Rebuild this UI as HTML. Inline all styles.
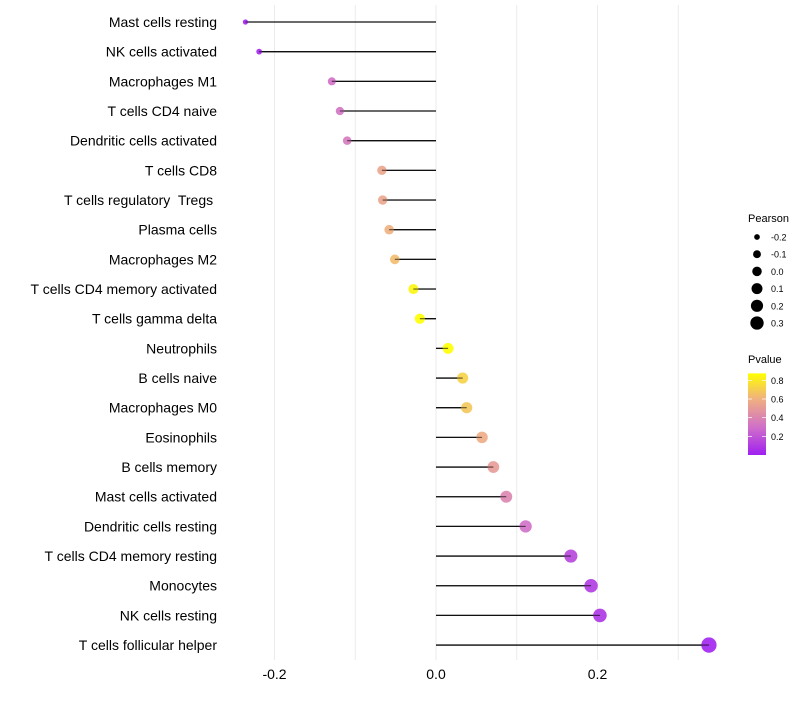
<!DOCTYPE html>
<html><head><meta charset="utf-8"><style>
body{margin:0;background:#fff;font-family:"Liberation Sans",sans-serif;}
text{white-space:pre;}
</style></head><body>
<svg id="c" width="800" height="700" xmlns="http://www.w3.org/2000/svg"></svg>
<script>
const categories=["Mast cells resting","NK cells activated","Macrophages M1","T cells CD4 naive","Dendritic cells activated","T cells CD8","T cells regulatory  Tregs ","Plasma cells","Macrophages M2","T cells CD4 memory activated","T cells gamma delta","Neutrophils","B cells naive","Macrophages M0","Eosinophils","B cells memory","Mast cells activated","Dendritic cells resting","T cells CD4 memory resting","Monocytes","NK cells resting","T cells follicular helper"];
const pearson=[-0.236,-0.219,-0.129,-0.119,-0.110,-0.067,-0.066,-0.058,-0.051,-0.028,-0.020,0.015,0.033,0.038,0.057,0.071,0.087,0.111,0.167,0.192,0.203,0.338];
const pvalues=[0.01,0.02,0.3,0.32,0.34,0.55,0.55,0.6,0.64,0.84,0.88,0.9,0.72,0.68,0.58,0.5,0.4,0.3,0.14,0.1,0.08,0.01];
const xTicks=[-0.2,0,0.2];
const xTickLabels=["-0.2","0.0","0.2"];
const gridVals=[-0.2,-0.1,0,0.1,0.2,0.3];
const sizeLegend=[-0.2,-0.1,0.0,0.1,0.2,0.3];
const sizeLegendLabels=["-0.2","-0.1","0.0","0.1","0.2","0.3"];
const pLegend=[0.8,0.6,0.4,0.2];

const svg=document.getElementById('c');
const NS="http://www.w3.org/2000/svg";
const x=v=>436+v*807.5;
const y=i=>22+i*29.67;
const r=v=>Math.sqrt(Math.max(2.5,28+90*v));
const stops=[[0,[160,32,240]],[0.3,[208,112,200]],[0.6,[240,176,128]],[0.875,[255,255,0]]];
function col(p){p=Math.max(0,Math.min(0.875,p));for(let k=1;k<stops.length;k++){if(p<=stops[k][0]){const a=stops[k-1],b=stops[k],t=(p-a[0])/(b[0]-a[0]);return 'rgb('+a[1].map((c,j)=>Math.round(c+(b[1][j]-c)*t)).join(',')+')';}}return 'rgb(255,255,0)';}
function el(t,at,txt){const e=document.createElementNS(NS,t);for(const k in at)e.setAttribute(k,at[k]);if(txt!==undefined)e.textContent=txt;svg.appendChild(e);return e;}

gridVals.forEach(v=>{const g=el('line',{x1:x(v),x2:x(v),y1:5,y2:660,stroke:'#ebebeb','stroke-width':1});

});
xTicks.forEach((v,i)=>{const t=el('text',{x:x(v),y:679,'font-size':14,'text-anchor':'middle',fill:'#000'},xTickLabels[i]);

});
categories.forEach((c,i)=>{
const t=el('text',{x:217,y:y(i)+5,'font-size':14,'text-anchor':'end',fill:'#000'},c);


const l=el('line',{x1:x(0),x2:x(pearson[i]),y1:y(i),y2:y(i),stroke:'#111','stroke-width':1.3});


const d=el('circle',{cx:x(pearson[i]),cy:y(i),r:r(pearson[i]),fill:col(pvalues[i]),'fill-opacity':0.9});


const l2=el('line',{x1:x(0),x2:x(pearson[i]),y1:y(i),y2:y(i),stroke:'#111','stroke-width':1.1,'stroke-opacity':0.6});


});
const pt=el('text',{x:748,y:222,'font-size':11},'Pearson');


sizeLegend.forEach((v,i)=>{const cy=237+i*17.2;
const c=el('circle',{cx:757,cy:cy,r:r(v)*0.9,fill:'#000'});


const t=el('text',{x:771,y:cy+3.5,'font-size':9},sizeLegendLabels[i]);

});
const vt=el('text',{x:748,y:363,'font-size':11},'Pvalue');


const defs=el('defs',{});
const lg=document.createElementNS(NS,'linearGradient');lg.setAttribute('id','pg');lg.setAttribute('x1',0);lg.setAttribute('y1',1);lg.setAttribute('x2',0);lg.setAttribute('y2',0);defs.appendChild(lg);
stops.forEach(s=>{const st=document.createElementNS(NS,'stop');st.setAttribute('offset',s[0]/0.875);st.setAttribute('stop-color','rgb('+s[1].join(',')+')');lg.appendChild(st);});
const py=p=>455-p*93.3;
const bar=el('rect',{x:748,y:py(0.875),width:18,height:py(0)-py(0.875),fill:'url(#pg)'});


pLegend.forEach(p=>{el('line',{x1:748,x2:752,y1:py(p),y2:py(p),stroke:'#fff','stroke-width':0.7});el('line',{x1:762,x2:766,y1:py(p),y2:py(p),stroke:'#fff','stroke-width':0.7});
const t=el('text',{x:771,y:py(p)+3.5,'font-size':9},p.toFixed(1));

});
</script>
</body></html>
